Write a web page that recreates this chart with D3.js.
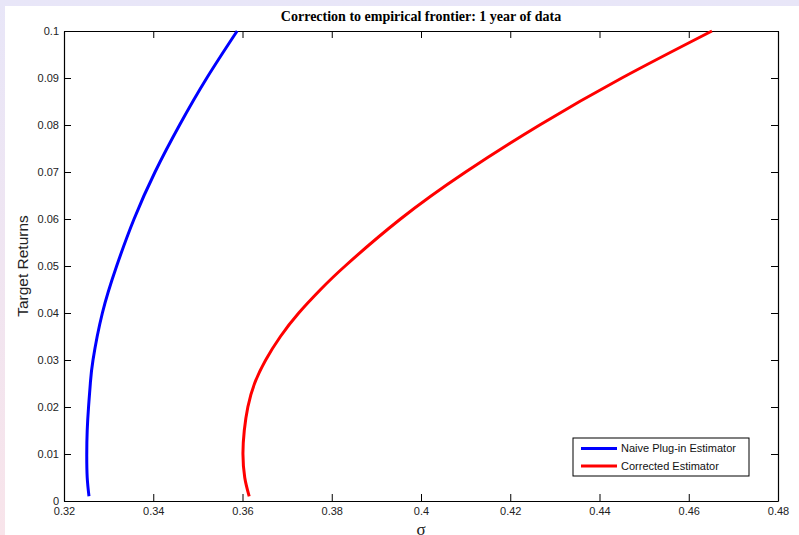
<!DOCTYPE html>
<html>
<head>
<meta charset="utf-8">
<script src="https://cdn.jsdelivr.net/npm/d3@7"></script>
<style>
  html, body { margin: 0; padding: 0; background: #fff; }
  svg { display: block; }
</style>
</head>
<body>
<svg id="chart" width="799" height="535"></svg>
<script>
// values: target return (mu) vs sigma
const naiveMu    = [0.001, 0.005, 0.01, 0.015, 0.02, 0.025, 0.03, 0.04, 0.05, 0.06, 0.07, 0.08, 0.09, 0.1]
const naiveSigma = [0.3256, 0.3252, 0.3251, 0.3252, 0.3255, 0.3259, 0.3265, 0.3286, 0.3318, 0.3357, 0.3404, 0.3459, 0.3520, 0.3588]

const corrMu    = [0.001, 0.005, 0.01, 0.015, 0.02, 0.025, 0.03, 0.035, 0.04, 0.045, 0.05, 0.06, 0.07, 0.08, 0.09, 0.1]
const corrSigma = [0.3615, 0.3605, 0.3601, 0.3604, 0.3612, 0.3627, 0.3652, 0.3685, 0.3726, 0.3775, 0.3830, 0.3954, 0.4100, 0.4266, 0.4450, 0.4652]

const xTicks = [0.32, 0.34, 0.36, 0.38, 0.4, 0.42, 0.44, 0.46, 0.48]
const yTicks = [0, 0.01, 0.02, 0.03, 0.04, 0.05, 0.06, 0.07, 0.08, 0.09, 0.1]

const seriesNames = ['Naive Plug-in Estimator', 'Corrected Estimator']
const seriesColors = ['#0000ff', '#ff0000']

const svg = d3.select('#chart')
const W = 799, H = 535
const m = {left: 64, top: 31, right: 778, bottom: 501}

// slide background
const defs = svg.append('defs')
const grad = defs.append('linearGradient')
  .attr('id', 'bg').attr('x1', 0).attr('y1', 0).attr('x2', 0).attr('y2', 1)
grad.append('stop').attr('offset', '0%').attr('stop-color', '#e8e6f8')
grad.append('stop').attr('offset', '100%').attr('stop-color', '#f8e4ea')
svg.append('rect').attr('width', W).attr('height', H).attr('fill', 'url(#bg)')
svg.append('rect').attr('x', 5).attr('y', 6).attr('width', W - 5).attr('height', H - 6).attr('fill', '#fff')

const x = d3.scaleLinear().domain([0.32, 0.48]).range([m.left, m.right])
const y = d3.scaleLinear().domain([0, 0.1]).range([m.bottom, m.top])

const tickFmt = d => d3.format('~g')(d)
const fontSans = 'Liberation Sans, Arial, Helvetica, sans-serif'

// axes (ticks inward, box around)
const axB = svg.append('g').attr('transform', `translate(0,${m.bottom})`)
  .call(d3.axisBottom(x).tickValues(xTicks).tickFormat(tickFmt).tickSizeInner(-7).tickSizeOuter(0).tickPadding(8))
const axT = svg.append('g').attr('transform', `translate(0,${m.top})`)
  .call(d3.axisTop(x).tickValues(xTicks).tickFormat('').tickSizeInner(-7).tickSizeOuter(0))
const axL = svg.append('g').attr('transform', `translate(${m.left},0)`)
  .call(d3.axisLeft(y).tickValues(yTicks).tickFormat(tickFmt).tickSizeInner(-7).tickSizeOuter(0).tickPadding(5))
const axR = svg.append('g').attr('transform', `translate(${m.right},0)`)
  .call(d3.axisRight(y).tickValues(yTicks).tickFormat('').tickSizeInner(-7).tickSizeOuter(0))

;[axB, axT, axL, axR].forEach(g => {
  g.selectAll('path.domain').attr('stroke', '#000').attr('stroke-width', 1.2)
  g.selectAll('.tick line').attr('stroke', '#000').attr('stroke-width', 1)
  g.selectAll('.tick text').attr('fill', '#222').style('font-family', fontSans).style('font-size', '11px')
})
axL.selectAll('.tick text').attr('dy', '0.35em')
axB.selectAll('.tick text').attr('dy', '0.55em')

// lines
const line = d3.line().x(d => x(d[0])).y(d => y(d[1])).curve(d3.curveNatural)
const series = [
  naiveMu.map((mu, i) => [naiveSigma[i], mu]),
  corrMu.map((mu, i) => [corrSigma[i], mu])
]
series.forEach((pts, i) => {
  svg.append('path').datum(pts)
    .attr('d', line)
    .attr('fill', 'none')
    .attr('stroke', seriesColors[i])
    .attr('stroke-width', 3)
})

// title and labels
svg.append('text')
  .attr('x', (m.left + m.right) / 2).attr('y', 20.5)
  .attr('text-anchor', 'middle')
  .style('font-family', 'Liberation Serif, Times New Roman, serif')
  .style('font-weight', 'bold').style('font-size', '14px')
  .text('Correction to empirical frontier: 1 year of data')

svg.append('text')
  .attr('x', (m.left + m.right) / 2).attr('y', 535)
  .attr('text-anchor', 'middle')
  .style('font-family', 'Liberation Serif, serif').style('font-size', '17px')
  .attr('fill', '#222')
  .text('σ')

svg.append('text')
  .attr('transform', `translate(28,${(m.top + m.bottom) / 2}) rotate(-90)`)
  .attr('text-anchor', 'middle')
  .style('font-family', fontSans).style('font-size', '15.5px')
  .attr('fill', '#222')
  .text('Target Returns')

// legend
const lg = svg.append('g').attr('transform', 'translate(573,438)')
lg.append('rect').attr('width', 176).attr('height', 38)
  .attr('fill', '#fff').attr('stroke', '#000').attr('stroke-width', 1)
seriesNames.forEach((name, i) => {
  const cy = 10.5 + i * 17.5
  lg.append('line').attr('x1', 8).attr('x2', 44).attr('y1', cy).attr('y2', cy)
    .attr('stroke', seriesColors[i]).attr('stroke-width', 3)
  lg.append('text').attr('x', 48).attr('y', cy).attr('dy', '0.36em')
    .style('font-family', fontSans).style('font-size', '11px').attr('fill', '#111')
    .text(name)
})
</script>
</body>
</html>
